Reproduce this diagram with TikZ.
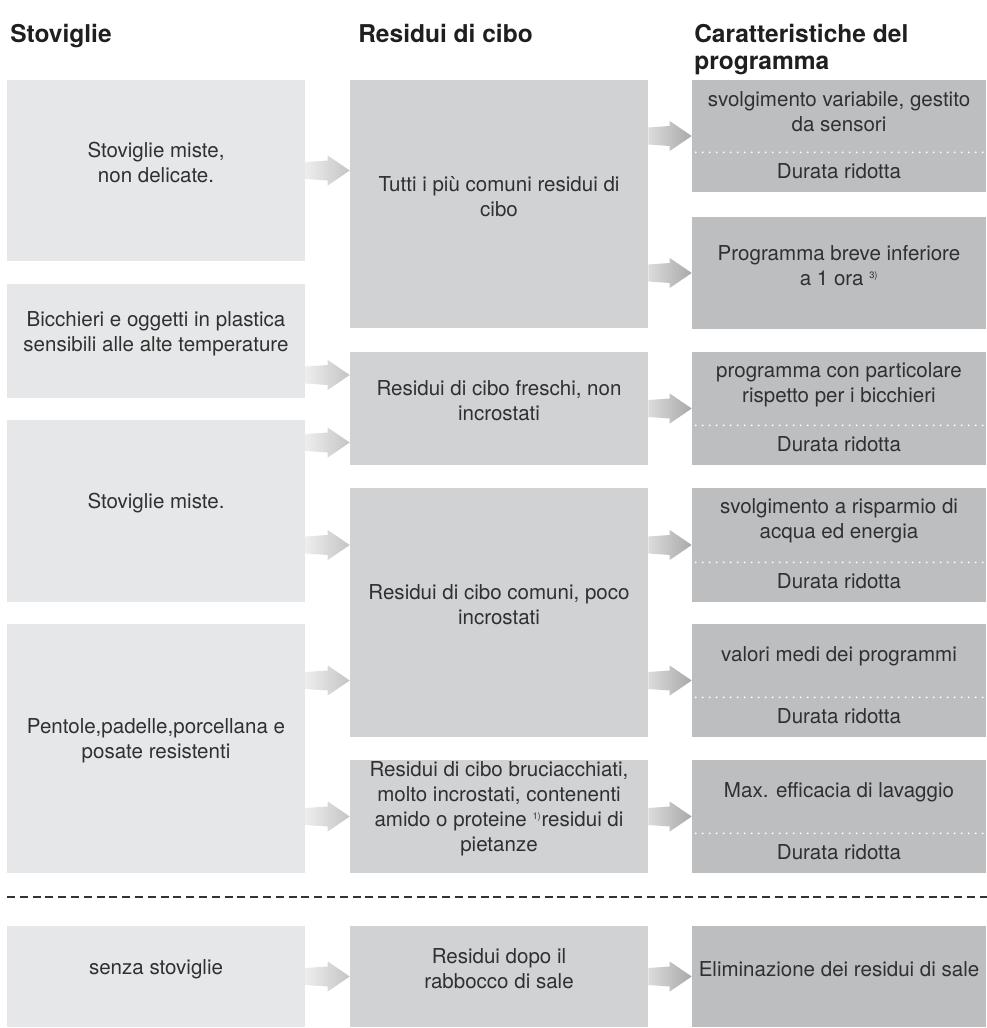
\documentclass[tikz,border=0pt]{standalone}
\usepackage{fontspec}
\setmainfont{TeX Gyre Heros}
\usepackage{tikz}
\usetikzlibrary{positioning, calc, fit}
\usepackage{xcolor}

\definecolor{dishgray}{HTML}{E6E7E8}
\definecolor{soilgray}{HTML}{D1D2D4}
\definecolor{proggray}{HTML}{BCBEC0}
\definecolor{inkgray}{HTML}{303030}

\newcommand{\fnote}[1]{\textsuperscript{\fontsize{7}{7}\selectfont #1}}
% shaded block arrow between two boxes at height #3
\newcommand{\fadearrow}[5]{%
  \path (#1.east |- 0,#3) coordinate (fa-s) (#2.west |- 0,#3) coordinate (fa-e);
  \shade[left color=#4, right color=#5]
    ($(fa-s)+(0,-8.5)$) -- ($(fa-e)+(-22,-10)$) -- ++(0,-5) -- (fa-e)
    -- ($(fa-e)+(-22,15)$) -- ++(0,-5) -- ($(fa-s)+(0,8.5)$) -- cycle;
}
% dotted split with "Durata ridotta" below
\newcommand{\progsplit}[2]{%
  \draw[dots] ($(#1.south west)+(4,-40)$) -- ($(#1.south east)+(-2,-40)$);
  \node[label] (#1-low) at ($(#1.south)+(0,-21)$) {Durata ridotta};
  \node[label] (#1-up) at ($(#1.center)+(0,-24)$) {#2};
}

\begin{document}
\begin{tikzpicture}[
  x=0.75pt, y=-0.75pt,
  head/.style={anchor=north west, inner sep=0, align=left, text=black!88,
    font=\fontsize{18.4}{20.25}\selectfont\bfseries},
  box/.style={inner sep=0, align=center, text=inkgray,
    font=\fontsize{15.4}{18.75}\selectfont},
  dish/.style={box, fill=dishgray},
  soil/.style={box, fill=soilgray},
  prog/.style={box, fill=proggray},
  label/.style={inner sep=0, align=center, text=inkgray,
    font=\fontsize{15.4}{18.75}\selectfont},
  dots/.style={white, line width=1.5pt, line cap=round, dash pattern=on 0pt off 5.25pt},
  sep/.style={black!80, line width=1.6pt, dash pattern=on 6pt off 3.6pt}
  ]
  \useasboundingbox (0,0) rectangle (987,1028);

  \node[head] (h1) at (10,24) {Stoviglie};
  \node[head] (h2) at (358,24) {Residui di cibo};
  \node[head] (h3) at (694,24) {Caratteristiche del\\programma};

  \node[dish, fit={(7,80) (305,261)}] (d1) {Stoviglie miste,\\non delicate.};
  \node[dish, fit={(7,284) (305,398)}] (d2) {Bicchieri e oggetti in plastica\\sensibili alle alte temperature};
  \node[dish, fit={(7,420) (305,602)}] (d3) {Stoviglie miste.};
  \node[dish, fit={(7,624) (305,873)}] (d4) {Pentole,padelle,porcellana e\\posate resistenti};
  \node[dish, fit={(7,926) (305,1027)}] (d5) {senza stoviglie};

  \node[soil, fit={(350,80) (648,328)}] (s1) {Tutti i più comuni residui di\\cibo};
  \node[soil, fit={(350,352) (648,465)}] (s2) {Residui di cibo freschi, non\\incrostati};
  \node[soil, fit={(350,488) (648,737)}] (s3) {Residui di cibo comuni, poco\\incrostati};
  \node[soil, fit={(350,760) (648,873)}] (s4) {Residui di cibo bruciacchiati,\\molto incrostati, contenenti\\amido o proteine \fnote{1)}residui di\\pietanze};
  \node[soil, fit={(350,926) (648,1027)}] (s5) {Residui dopo il\\rabbocco di sale};

  \node[prog, fit={(692,80) (986,192)}] (p1) {};
  \node[prog, fit={(692,217) (986,329)}] (p2) {Programma breve inferiore\\a 1 ora \fnote{3)}};
  \node[prog, fit={(692,352) (986,465)}] (p3) {};
  \node[prog, fit={(692,488) (986,602)}] (p4) {};
  \node[prog, fit={(692,624) (986,737)}] (p5) {};
  \node[prog, fit={(692,760) (986,873)}] (p6) {};
  \node[prog, fit={(692,926) (986,1027)}] (p7) {Eliminazione dei residui di sale};

  \progsplit{p1}{svolgimento variabile, gestito\\da sensori}
  \progsplit{p3}{programma con particolare\\rispetto per i bicchieri}
  \progsplit{p4}{svolgimento a risparmio di\\acqua ed energia}
  \progsplit{p5}{valori medi dei programmi}
  \progsplit{p6}{Max. efficacia di lavaggio}

  \foreach \a/\b/\y in {d1/s1/170.5, d2/s2/375, d3/s2/442.5, d3/s3/545,
                        d4/s3/680.5, d4/s4/816.5, d5/s5/976.5}
    {\fadearrow{\a}{\b}{\y}{white!93!black}{white!77!black}}
  \foreach \a/\b/\y in {s1/p1/136, s1/p2/273, s2/p3/408.5, s3/p4/545,
                        s3/p5/680.5, s4/p6/816.5, s5/p7/976.5}
    {\fadearrow{\a}{\b}{\y}{white!86!black}{white!66!black}}

  \draw[sep] (7,897) -- (987,897);
\end{tikzpicture}
\end{document}
